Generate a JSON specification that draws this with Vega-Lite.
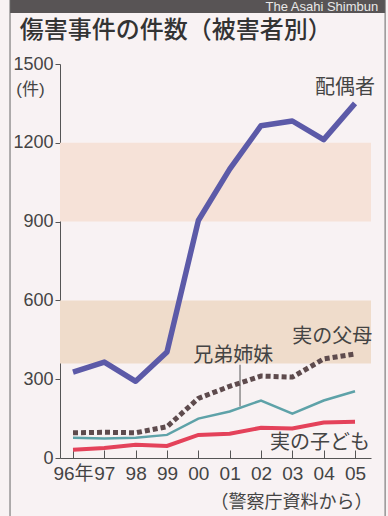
{
  "$schema": "https://vega.github.io/schema/vega-lite/v6.json",
  "width": 311,
  "height": 394,
  "autosize": {"type": "none"},
  "padding": {"left": 60, "top": 64, "right": 17, "bottom": 58},
  "background": "#f8f2f3",
  "config": {
    "view": {"stroke": null},
    "font": "Liberation Sans, Noto Sans CJK JP"
  },
  "data": {
    "values": [
      {"year": 1996, "group": "配偶者", "value": 327},
      {"year": 1997, "group": "配偶者", "value": 365},
      {"year": 1998, "group": "配偶者", "value": 292},
      {"year": 1999, "group": "配偶者", "value": 404},
      {"year": 2000, "group": "配偶者", "value": 904},
      {"year": 2001, "group": "配偶者", "value": 1100},
      {"year": 2002, "group": "配偶者", "value": 1265},
      {"year": 2003, "group": "配偶者", "value": 1283},
      {"year": 2004, "group": "配偶者", "value": 1212},
      {"year": 2005, "group": "配偶者", "value": 1350},
      {"year": 1996, "group": "実の父母", "value": 96},
      {"year": 1997, "group": "実の父母", "value": 98},
      {"year": 1998, "group": "実の父母", "value": 96},
      {"year": 1999, "group": "実の父母", "value": 119},
      {"year": 2000, "group": "実の父母", "value": 227},
      {"year": 2001, "group": "実の父母", "value": 273},
      {"year": 2002, "group": "実の父母", "value": 312},
      {"year": 2003, "group": "実の父母", "value": 308},
      {"year": 2004, "group": "実の父母", "value": 377},
      {"year": 2005, "group": "実の父母", "value": 396},
      {"year": 1996, "group": "兄弟姉妹", "value": 77},
      {"year": 1997, "group": "兄弟姉妹", "value": 74},
      {"year": 1998, "group": "兄弟姉妹", "value": 77},
      {"year": 1999, "group": "兄弟姉妹", "value": 88},
      {"year": 2000, "group": "兄弟姉妹", "value": 150},
      {"year": 2001, "group": "兄弟姉妹", "value": 177},
      {"year": 2002, "group": "兄弟姉妹", "value": 219},
      {"year": 2003, "group": "兄弟姉妹", "value": 169},
      {"year": 2004, "group": "兄弟姉妹", "value": 219},
      {"year": 2005, "group": "兄弟姉妹", "value": 254},
      {"year": 1996, "group": "実の子ども", "value": 31},
      {"year": 1997, "group": "実の子ども", "value": 38},
      {"year": 1998, "group": "実の子ども", "value": 50},
      {"year": 1999, "group": "実の子ども", "value": 46},
      {"year": 2000, "group": "実の子ども", "value": 88},
      {"year": 2001, "group": "実の子ども", "value": 92},
      {"year": 2002, "group": "実の子ども", "value": 115},
      {"year": 2003, "group": "実の子ども", "value": 112},
      {"year": 2004, "group": "実の子ども", "value": 135},
      {"year": 2005, "group": "実の子ども", "value": 138}
    ]
  },
  "encoding": {
    "x": {
      "field": "year",
      "type": "quantitative",
      "scale": {"domain": [1995.585, 2005.51], "nice": false, "zero": false},
      "axis": {
        "title": "（警察庁資料から）",
        "titleFont": "Noto Sans CJK JP",
        "titleFontSize": 18,
        "titleFontWeight": "normal",
        "titleColor": "#444",
        "titleAnchor": "end",
        "titleAlign": "right",
        "titleBaseline": "middle",
        "titleX": 312,
        "titleY": 44,
        "values": [1996, 1997, 1998, 1999, 2000, 2001, 2002, 2003, 2004, 2005],
        "labelExpr": "datum.value == 1996 ? '96年' : slice(toString(datum.value), 2)",
        "labelFontSize": 19,
        "labelColor": "#444",
        "labelFont": "Liberation Sans, Noto Sans CJK JP",
        "tickSize": -8,
        "labelPadding": 14,
        "tickColor": "#555",
        "domainColor": "#555",
        "grid": false,
        "labelFlush": false
      }
    },
    "y": {
      "field": "value",
      "type": "quantitative",
      "scale": {"domain": [0, 1500], "nice": false},
      "axis": {
        "title": "(件)",
        "titleAngle": 0,
        "titleFont": "Liberation Sans, Noto Sans CJK JP",
        "titleFontSize": 17,
        "titleFontWeight": "normal",
        "titleColor": "#444",
        "titleAlign": "center",
        "titleBaseline": "middle",
        "titleX": -30,
        "titleY": 25,
        "values": [0, 300, 600, 900, 1200, 1500],
        "format": "d",
        "labelFontSize": 18,
        "labelColor": "#444",
        "tickSize": 5,
        "labelPadding": 2,
        "tickColor": "#555",
        "domainColor": "#555",
        "grid": false
      }
    }
  },
  "layer": [
    {
      "transform": [{"filter": "datum.year == 1996 && datum.group == '配偶者'"}],
      "mark": {"type": "rect", "color": "#f6e2d8"},
      "encoding": {
        "x": {"datum": 1995.585},
        "x2": {"datum": 2005.51},
        "y": {"datum": 900},
        "y2": {"datum": 1200}
      }
    },
    {
      "transform": [{"filter": "datum.year == 1996 && datum.group == '配偶者'"}],
      "mark": {"type": "rect", "color": "#efdccb"},
      "encoding": {
        "x": {"datum": 1995.585},
        "x2": {"datum": 2005.51},
        "y": {"datum": 360},
        "y2": {"datum": 600}
      }
    },
    {
      "transform": [{"filter": "datum.year == 1996 && datum.group == '配偶者'"}],
      "mark": {"type": "rect", "color": "#585455"},
      "encoding": {
        "x": {"datum": 1993.99},
        "x2": {"datum": 2005.96},
        "y": {"datum": 1694},
        "y2": {"datum": 1746}
      }
    },
    {
      "transform": [{"filter": "datum.year == 1996 && datum.group == '配偶者'"}],
      "mark": {"type": "text", "text": "The Asahi Shimbun", "align": "right", "baseline": "middle", "fontSize": 13, "color": "#e8e8e8", "font": "Liberation Sans"},
      "encoding": {
        "x": {"datum": 2005.74},
        "y": {"datum": 1716}
      }
    },
    {
      "transform": [{"filter": "datum.year == 1996 && datum.group == '配偶者'"}],
      "mark": {"type": "text", "text": "傷害事件の件数（被害者別）", "align": "left", "baseline": "middle", "fontSize": 24, "fontWeight": 500, "color": "#333", "font": "Noto Sans CJK JP"},
      "encoding": {
        "x": {"datum": 1994.3},
        "y": {"datum": 1624}
      }
    },
    {
      "transform": [{"filter": "datum.year == 1996 && datum.group == '配偶者'"}],
      "mark": {"type": "rule", "color": "#666", "strokeWidth": 1},
      "encoding": {
        "x": {"datum": 1993.99},
        "y": {"datum": 1746},
        "y2": {"datum": -230}
      }
    },
    {
      "transform": [{"filter": "datum.year == 1996 && datum.group == '配偶者'"}],
      "mark": {"type": "rule", "color": "#666", "strokeWidth": 1},
      "encoding": {
        "x": {"datum": 2005.96},
        "y": {"datum": 1746},
        "y2": {"datum": -230}
      }
    },
    {
      "transform": [{"filter": "datum.year == 1996 && datum.group == '配偶者'"}],
      "mark": {"type": "rule", "color": "#555", "strokeWidth": 1},
      "encoding": {
        "x": {"datum": 2001.33},
        "y": {"datum": 355},
        "y2": {"datum": 196}
      }
    },
    {
      "transform": [{"filter": "datum.group == '実の子ども'"}],
      "mark": {"type": "line", "color": "#e4425a", "strokeWidth": 4},
      "encoding": {}
    },
    {
      "transform": [{"filter": "datum.group == '兄弟姉妹'"}],
      "mark": {"type": "line", "color": "#5ea2a8", "strokeWidth": 2.5},
      "encoding": {}
    },
    {
      "transform": [{"filter": "datum.group == '実の父母'"}],
      "mark": {"type": "line", "color": "#5e4b4d", "strokeWidth": 5, "strokeDash": [5, 3], "strokeCap": "butt"},
      "encoding": {}
    },
    {
      "transform": [{"filter": "datum.group == '配偶者'"}],
      "mark": {"type": "line", "color": "#5c5aa8", "strokeWidth": 5.5, "strokeJoin": "round"},
      "encoding": {}
    },
    {
      "transform": [{"filter": "datum.year == 1996 && datum.group == '配偶者'"}],
      "mark": {"type": "text", "text": "配偶者", "align": "center", "baseline": "middle", "fontSize": 20, "color": "#444", "font": "Noto Sans CJK JP"},
      "encoding": {"x": {"datum": 2004.68}, "y": {"datum": 1408}}
    },
    {
      "transform": [{"filter": "datum.year == 1996 && datum.group == '配偶者'"}],
      "mark": {"type": "text", "text": "実の父母", "align": "center", "baseline": "middle", "fontSize": 20, "color": "#444", "font": "Noto Sans CJK JP"},
      "encoding": {"x": {"datum": 2004.27}, "y": {"datum": 462}}
    },
    {
      "transform": [{"filter": "datum.year == 1996 && datum.group == '配偶者'"}],
      "mark": {"type": "text", "text": "兄弟姉妹", "align": "center", "baseline": "middle", "fontSize": 20, "color": "#444", "font": "Noto Sans CJK JP"},
      "encoding": {"x": {"datum": 2001.11}, "y": {"datum": 388}}
    },
    {
      "transform": [{"filter": "datum.year == 1996 && datum.group == '配偶者'"}],
      "mark": {"type": "text", "text": "実の子ども", "align": "center", "baseline": "middle", "fontSize": 20, "color": "#444", "font": "Noto Sans CJK JP"},
      "encoding": {"x": {"datum": 2003.88}, "y": {"datum": 58}}
    }
  ]
}
